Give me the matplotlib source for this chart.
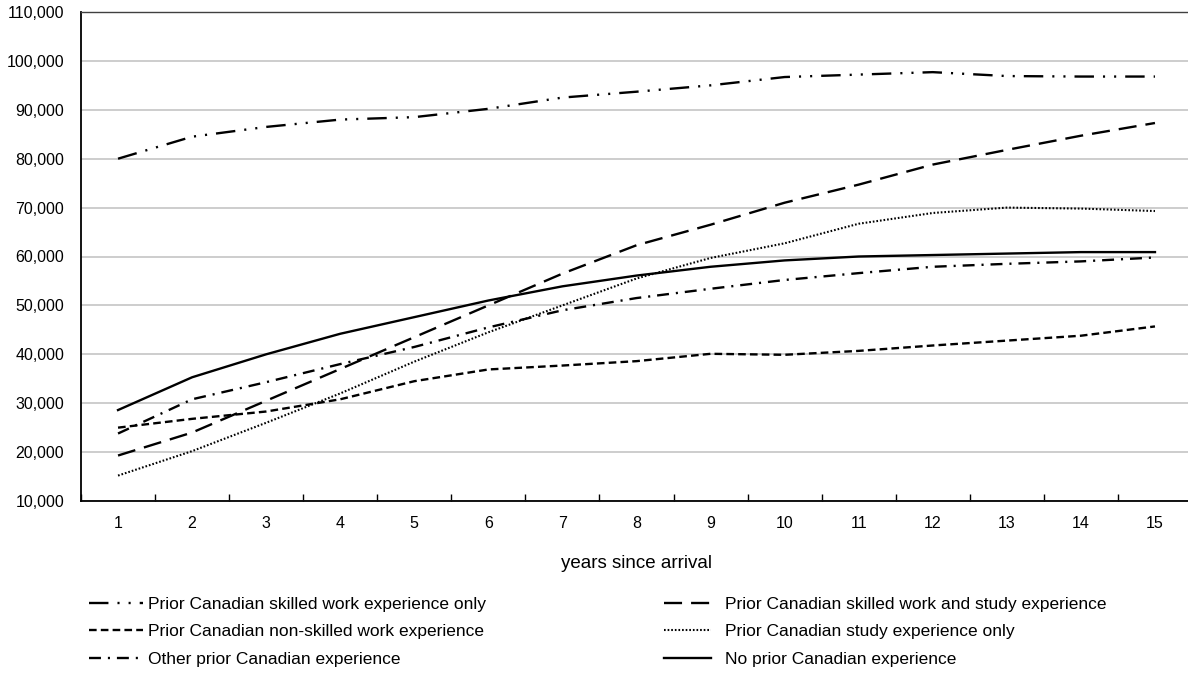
import matplotlib
matplotlib.use("Agg")
import matplotlib.pyplot as plt
from matplotlib.ticker import FuncFormatter, MultipleLocator

plt.rcParams['font.family'] = ['Liberation Sans', 'DejaVu Sans']
plt.rcParams['lines.scale_dashes'] = False

years = list(range(1, 16))

skilled_work_only = [80000, 84500, 86500, 88000, 88500, 90200, 92500, 93700, 95000, 96700, 97200, 97700, 96900, 96800, 96800]
skilled_work_study = [19300, 24000, 30500, 37000, 43500, 50000, 56500, 62300, 66500, 71000, 74700, 78800, 81800, 84700, 87300]
non_skilled = [25000, 26800, 28300, 30800, 34500, 36900, 37700, 38600, 40100, 39900, 40700, 41800, 42800, 43800, 45700]
study_only = [15200, 20200, 26000, 32000, 38500, 44500, 50000, 55500, 59700, 62700, 66700, 68900, 70000, 69800, 69300]
other_prior = [23800, 30800, 34300, 38000, 41500, 45500, 49000, 51500, 53400, 55200, 56600, 57900, 58500, 59000, 59800]
no_prior = [28600, 35300, 40000, 44200, 47600, 51000, 53900, 56100, 57900, 59200, 60000, 60300, 60600, 60900, 60900]

labels = [
    "Prior Canadian skilled work experience only",
    "Prior Canadian skilled work and study experience",
    "Prior Canadian non-skilled work experience",
    "Prior Canadian study experience only",
    "Other prior Canadian experience",
    "No prior Canadian experience",
]

W, H = 1188, 677
fig = plt.figure(figsize=(W/100, H/100), dpi=100)
x0, x1, ytop, ybot = 81, 1192, 12, 501
ax = fig.add_axes([x0/W, 1-ybot/H, (x1-x0)/W, (ybot-ytop)/H])

lw = 1.7
h1, = ax.plot(years, skilled_work_only, color='black', lw=lw, dashes=(14, 6.5, 1.5, 6.5, 1.5, 6.5), dash_capstyle='butt')
h2, = ax.plot(years, skilled_work_study, color='black', lw=lw, dashes=(13, 6.5), dash_capstyle='butt')
h3, = ax.plot(years, non_skilled, color='black', lw=lw, dashes=(5.5, 3), dash_capstyle='butt')
h4, = ax.plot(years, study_only, color='black', lw=1.5, dashes=(1.2, 1.4), dash_capstyle='butt')
h5, = ax.plot(years, other_prior, color='black', lw=lw, dashes=(8.6, 5, 1.5, 5), dash_capstyle='butt')
h6, = ax.plot(years, no_prior, color='black', lw=lw)

ax.set_xlim(0.5, 15.5)
ax.set_ylim(10000, 110000)
ax.yaxis.set_major_locator(MultipleLocator(10000))
ax.yaxis.set_major_formatter(FuncFormatter(lambda v, p: f"{int(v):,}"))
ax.set_xticks(years)
ax.set_xticks([y + 0.5 for y in range(0, 16)], minor=True)
ax.tick_params(axis='x', which='major', length=0, pad=11, labelsize=11.5)
ax.tick_params(axis='x', which='minor', length=5, direction='in', width=1)
ax.tick_params(axis='y', length=0, pad=12, labelsize=11.5)
ax.grid(axis='y', color='#c0c0c0', lw=1.1)
ax.set_axisbelow(True)
ax.spines['right'].set_visible(False)
ax.spines['top'].set_color('#404040')
ax.spines['top'].set_linewidth(1.0)
for s in ['left', 'bottom']:
    ax.spines[s].set_color('black')
    ax.spines[s].set_linewidth(1.3)

ax.set_xlabel("years since arrival", fontsize=13.5, labelpad=17)

legkw = dict(frameon=False, fontsize=12.5, labelspacing=0.7,
             borderaxespad=0, borderpad=0)
fig.legend([h1, h3, h5], [labels[0], labels[2], labels[4]], loc='upper left',
           bbox_to_anchor=(89/W, 1-597/H), handlelength=3.1, handletextpad=0.3, **legkw)
fig.legend([h2, h4, h6], [labels[1], labels[3], labels[5]], loc='upper left',
           bbox_to_anchor=(664/W, 1-597/H), handlelength=2.7, handletextpad=0.8, **legkw)

fig.savefig("out.png", dpi=100)
